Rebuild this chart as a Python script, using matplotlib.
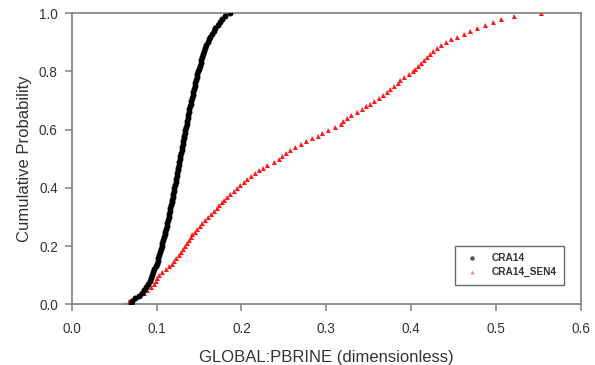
import numpy as np
from matplotlib import pyplot as plt

# cumulative probability levels (same for both series)
prob = np.round(np.arange(0, 101) / 100, 2)

# CRA14 : sorted PBRINE values read at each probability level
cra14 = [0.0700, 0.0710, 0.0750, 0.0795, 0.0830, 0.0856, 0.0878, 0.0899, 0.0917, 0.0933,
         0.0948, 0.0962, 0.0975, 0.0988, 0.1000, 0.1011, 0.1022, 0.1032, 0.1042, 0.1051,
         0.1060, 0.1069, 0.1078, 0.1087, 0.1095, 0.1103, 0.1111, 0.1119, 0.1126, 0.1134,
         0.1141, 0.1149, 0.1156, 0.1163, 0.1170, 0.1177, 0.1184, 0.1190, 0.1197, 0.1204,
         0.1210, 0.1217, 0.1223, 0.1230, 0.1236, 0.1243, 0.1249, 0.1256, 0.1262, 0.1269,
         0.1275, 0.1281, 0.1288, 0.1294, 0.1301, 0.1307, 0.1314, 0.1320, 0.1327, 0.1333,
         0.1340, 0.1346, 0.1353, 0.1360, 0.1367, 0.1373, 0.1380, 0.1387, 0.1394, 0.1401,
         0.1409, 0.1416, 0.1424, 0.1431, 0.1439, 0.1447, 0.1455, 0.1463, 0.1472, 0.1481,
         0.1490, 0.1499, 0.1508, 0.1518, 0.1528, 0.1539, 0.1550, 0.1562, 0.1575, 0.1588,
         0.1602, 0.1617, 0.1633, 0.1651, 0.1672, 0.1694, 0.1718, 0.1745, 0.1775, 0.1810,
         0.1865]

# CRA14_SEN4
cra14_sen4 = [0.0625, 0.068, 0.073, 0.078, 0.085, 0.089, 0.093, 0.097, 0.099, 0.101,
              0.103, 0.106, 0.111, 0.115, 0.118, 0.121, 0.123, 0.126, 0.129, 0.131,
              0.134, 0.136, 0.138, 0.140, 0.142, 0.145, 0.148, 0.151, 0.154, 0.157,
              0.160, 0.164, 0.168, 0.171, 0.174, 0.177, 0.180, 0.183, 0.187, 0.191,
              0.195, 0.198, 0.203, 0.207, 0.211, 0.216, 0.221, 0.225, 0.230, 0.238,
              0.244, 0.248, 0.252, 0.257, 0.263, 0.270, 0.276, 0.283, 0.290, 0.295,
              0.302, 0.310, 0.317, 0.320, 0.324, 0.329, 0.336, 0.342, 0.347, 0.351,
              0.356, 0.362, 0.367, 0.371, 0.375, 0.380, 0.384, 0.387, 0.392, 0.397,
              0.402, 0.405, 0.408, 0.411, 0.415, 0.419, 0.422, 0.426, 0.430, 0.435,
              0.441, 0.447, 0.454, 0.462, 0.469, 0.478, 0.487, 0.496, 0.506, 0.521,
              0.553]

xticks = [0.0, 0.1, 0.2, 0.3, 0.4, 0.5, 0.6]
yticks = [0.0, 0.2, 0.4, 0.6, 0.8, 1.0]

plt.rcParams['font.family'] = ['Liberation Sans', 'DejaVu Sans']
txt = '#333333'
axc = '#7f7f7f'

fig = plt.figure(figsize=(5.95, 3.65), dpi=100)
ax = fig.add_axes([0.1205, 0.1663, 0.856, 0.7973])

ax.plot(cra14, prob, linestyle='none', marker='o', ms=4.3, color='black',
        markeredgewidth=0, label='CRA14', zorder=3)
ax.plot(cra14_sen4, prob, linestyle='none', marker='^', ms=3.6, color='#ff1a1a',
        markeredgewidth=0, label='CRA14_SEN4', zorder=2)

ax.set_xlim(0, 0.6)
ax.set_ylim(0, 1.0)
ax.set_xticks(xticks)
ax.set_yticks(yticks)
ax.set_xticklabels([f'{v:.1f}' for v in xticks])
ax.set_yticklabels([f'{v:.1f}' for v in yticks])
ax.tick_params(direction='out', length=5, width=1.1, color=axc, labelcolor=txt,
               labelsize=9.8)
ax.tick_params(axis='x', pad=8)
ax.tick_params(axis='y', pad=5)
for s in ax.spines.values():
    s.set_color(axc)
    s.set_linewidth(1.2)

ax.set_xlabel('GLOBAL:PBRINE (dimensionless)', fontsize=12, color=txt, labelpad=10)
ax.set_ylabel('Cumulative Probability', fontsize=12, color=txt, labelpad=5)

leg = ax.legend(loc='lower right', bbox_to_anchor=(0.967, 0.066), borderaxespad=0,
                fancybox=False, frameon=True, edgecolor='#444444', markerscale=0.75,
                prop={'weight': 'bold', 'size': 7.3}, handletextpad=0.9,
                borderpad=0.75, labelspacing=0.4)
leg.get_frame().set_linewidth(1.0)
# legend symbols look lighter than the plotted ones
leg.legend_handles[0].set_color('#555555')
leg.legend_handles[1].set_color('#ff7070')
for t in leg.get_texts():
    t.set_color(txt)

plt.savefig('out.png', dpi=100)
